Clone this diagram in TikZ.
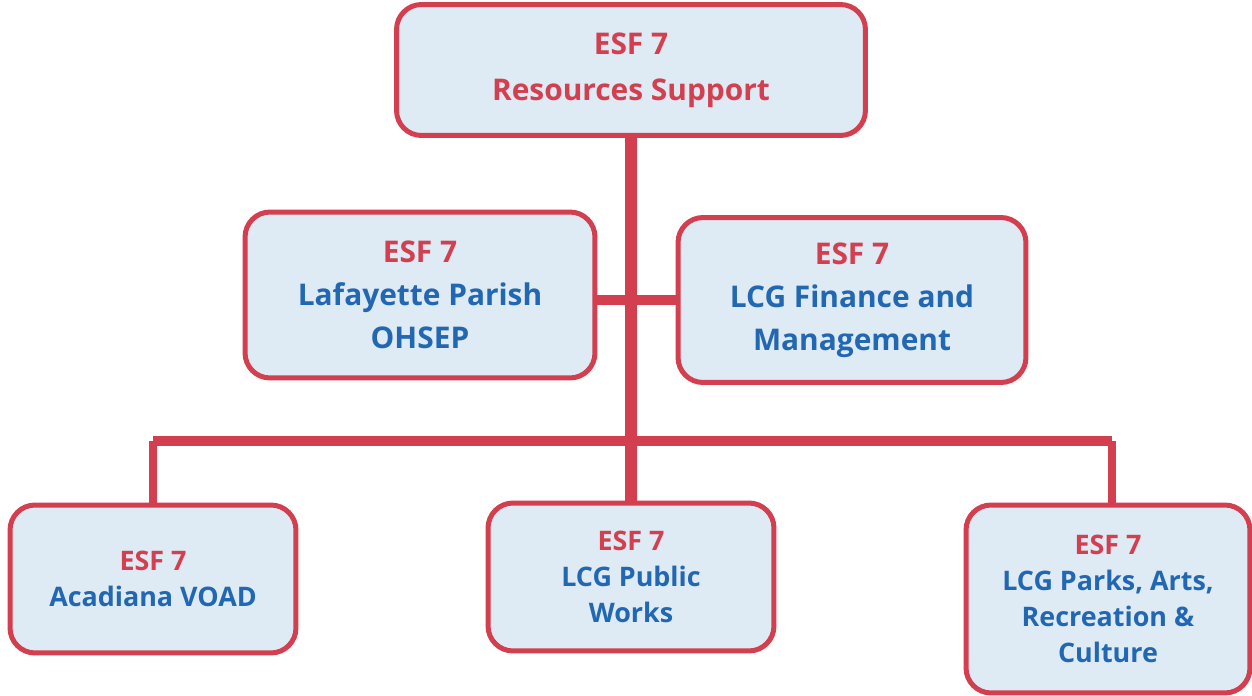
\documentclass[tikz,border=0pt]{standalone}
\usepackage{fontspec}
\usetikzlibrary{backgrounds}
\setmainfont{Open Sans}
\definecolor{esfred}{HTML}{D33F4E}
\definecolor{esfblue}{HTML}{2267B2}
\definecolor{esffill}{HTML}{DEEAF4}

\begin{document}
\begin{tikzpicture}[x=0.02cm, y=-0.02cm,
    box/.style={draw=esfred, fill=esffill, line width=0.1cm, rounded corners=0.5cm,
      align=center, font=\bfseries\fontsize{17}{24.5}\selectfont, text=esfblue},
    small/.style={box, font=\bfseries\fontsize{15.3}{20.5}\selectfont},
    link/.style={draw=esfred, line width=0.2cm},
    ]
    \useasboundingbox (0,0) rectangle (1252,696);
    % top
    \node[box, minimum width=9.38cm, minimum height=2.62cm, font=\bfseries\fontsize{17}{26}\selectfont,
      text=esfred] (top) at (631,70) {ESF 7\\Resources Support};
    % middle row
    \node[box, minimum width=7cm, minimum height=3.32cm] (ohsep) at (420,295)
      {\textcolor{esfred}{ESF 7}\\Lafayette Parish\\OHSEP};
    \node[box, minimum width=6.96cm, minimum height=3.3cm] (fin) at (852,300)
      {\textcolor{esfred}{ESF 7}\\LCG Finance and\\Management};
    % bottom row
    \node[small, minimum width=5.72cm, minimum height=2.96cm] (voad) at (153,579)
      {\textcolor{esfred}{ESF 7}\\Acadiana VOAD};
    \node[small, minimum width=5.72cm, minimum height=2.96cm] (works) at (631,577)
      {\textcolor{esfred}{ESF 7}\\LCG Public\\Works};
    \node[small, minimum width=5.68cm, minimum height=3.76cm] (parks) at (1108,599)
      {\textcolor{esfred}{ESF 7}\\LCG Parks, Arts,\\Recreation \&\\Culture};
    % connectors behind the boxes
    \coordinate (barl) at (153,441);
    \coordinate (barr) at (1112,441);
    \coordinate (mid) at (631,300);
    \begin{scope}[on background layer]
      \draw[link, line width=0.25cm] (top.south) -- (works.north);
      \draw[link] (barl) -- (barr);
      \draw[link, line width=0.17cm] (barl) -- (voad.north);
      \draw[link, line width=0.17cm] (barr) -- (parks.north -| barr);
      \draw[link, line width=0.19cm] (ohsep.east |- mid) -- (fin.west |- mid);
    \end{scope}
  \end{tikzpicture}
\end{document}
